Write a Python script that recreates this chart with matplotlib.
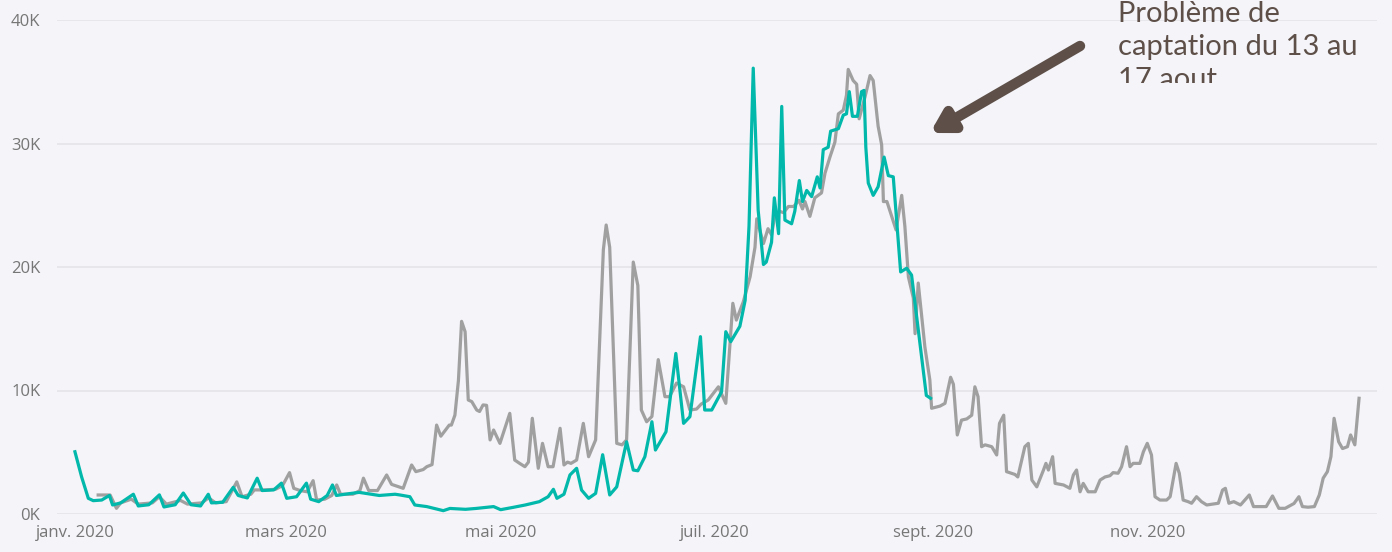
import matplotlib
matplotlib.use("Agg")
import matplotlib.pyplot as plt
from matplotlib.transforms import Bbox, TransformedBbox
import pandas as pd

START = pd.Timestamp("2020-01-01")

# Grey series: (day offset from 1 Jan 2020, value in thousands)
grey_days = [6.6, 10, 11.8, 13, 16, 18, 22, 24, 26, 30, 32, 36, 38, 40, 43, 46, 47.5, 50, 51, 54, 57, 59,
             61, 62.2, 64, 66, 67.7, 68.7, 71, 73, 74.4, 75.5, 79, 81, 82, 83.5, 86, 88.6, 90, 93.3, 95.7,
             96.9, 99, 100, 101.5, 102.8, 104, 106.4, 107, 108, 109, 109.9, 110.9, 111.8, 112.8, 114.2, 115,
             116, 117, 118, 119, 120.8, 123.6, 125, 126.4, 127.9, 128.9, 130, 131.7, 132.9, 134.5, 135.9,
             137.9, 139, 140, 141, 142.6, 144.5, 146, 148, 150.2, 151, 152, 154, 155.5, 156.8, 158.7, 160,
             161, 162.5, 164, 165.8, 167.7, 169, 171, 173, 174.8, 176.7, 178, 180, 182.9, 185, 187, 188,
             190, 191.9, 193.3, 193.8, 195.7, 197, 198, 199, 200.4, 201.4, 202.8, 204.3, 205.8, 206.8,
             207.5, 208.9, 210.3, 212.2, 213.2, 214.6, 216, 217, 218.4, 219.3, 219.8, 221.2, 222.2, 222.9,
             224.6, 226, 226.9, 228.3, 229.3, 229.8, 230.8, 231.7, 233.4, 235, 235.9, 236.9, 238.3, 238.8,
             239.7, 241.6, 243, 243.5, 245.9, 247.3, 248.9, 249.7, 250.8, 252, 253.5, 254.9, 255.8, 256.7,
             257.7, 258.7, 260.6, 262, 262.8, 264, 264.8, 267.2, 268, 270, 271, 272, 273.4, 275.3, 276,
             276.7, 277.9, 278.6, 281, 282.8, 283.8, 284.7, 285.7, 286.6, 288, 290, 291.4, 292.8, 294.2,
             295.1, 296.5, 297.5, 298.9, 299.9, 300.8, 302.7, 303.7, 304.8, 306, 307, 308.4, 310.3, 311.3,
             313, 313.9, 315, 316.4, 317.4, 318.8, 320.2, 321.7, 325, 326.2, 327, 328, 329.4, 331.3, 333.8,
             335, 338.6, 340.4, 342.2, 344, 345.5, 346.5, 347.9, 348.9, 350.5, 352.3, 353.7, 354.8, 356,
             357, 357.9, 359.2, 360.3, 361.7, 362.6, 363.8, 365]
grey_vals = [1.54, 1.54, 0.46, 0.9, 1.2, 0.8, 0.9, 1.4, 0.8, 1.1, 0.8, 0.9, 1.3, 0.9, 1.0, 2.6, 1.4, 1.6, 1.95,
             1.95, 2.0, 2.3, 3.35, 2.08, 1.9, 1.8, 2.7, 1.13, 1.2, 1.5, 2.35, 1.6, 1.6, 1.9, 2.9, 1.9, 1.9,
             3.16, 2.4, 2.08, 3.97, 3.43, 3.6, 3.83, 4.0, 7.2, 6.3, 7.2, 7.2, 8.0, 10.8, 15.6, 14.76, 9.23,
             9.1, 8.42, 8.3, 8.83, 8.8, 6.0, 6.8, 5.72, 8.15, 4.37, 4.1, 3.83, 4.2, 7.75, 3.7, 5.72, 3.83,
             3.83, 6.94, 3.97, 4.2, 4.1, 4.37, 7.34, 4.64, 6.0, 21.4, 23.4, 21.6, 5.72, 5.6, 6.0, 20.4, 18.5,
             8.42, 7.47, 7.9, 12.5, 9.5, 9.5, 10.6, 10.3, 8.42, 8.5, 8.9, 9.23, 10.3, 8.96, 17.06, 15.7,
             17.2, 19.2, 21.6, 23.9, 21.9, 23.1, 22.6, 24.3, 24.5, 24.4, 24.9, 24.9, 25.4, 24.7, 25.3, 24.1,
             25.6, 26.0, 27.6, 28.9, 30.1, 32.4, 32.7, 33.9, 36.0, 35.1, 34.8, 32.0, 33.8, 35.5, 35.1, 31.4,
             29.9, 25.3, 25.3, 24.5, 23.0, 25.8, 23.3, 19.2, 17.5, 14.6, 18.7, 13.5, 10.85, 8.56, 8.74, 8.96,
             11.07, 10.5, 6.4, 7.6, 7.7, 8.0, 10.3, 9.5, 5.45, 5.6, 5.45, 4.78, 7.34, 8.0, 3.43, 3.2, 3.0,
             5.45, 5.72, 2.75, 2.2, 3.56, 4.1, 3.56, 4.64, 2.48, 2.35, 2.08, 3.16, 3.56, 1.8, 2.48, 1.8, 1.8,
             2.75, 3.0, 3.1, 3.35, 3.3, 3.83, 5.45, 3.83, 4.1, 4.1, 5.04, 5.72, 4.78, 1.4, 1.13, 1.13, 1.4,
             4.1, 3.3, 1.13, 1.0, 0.87, 1.4, 1.0, 0.73, 0.87, 1.94, 2.08, 0.87, 1.0, 0.73, 1.54, 0.6, 0.6,
             1.46, 0.46, 0.46, 0.7, 0.85, 1.4, 0.6, 0.55, 0.6, 1.54, 2.9, 3.43, 4.64, 7.75, 5.85, 5.3, 5.45,
             6.4, 5.6, 9.37]

# Teal series
teal_days = [0, 1.9, 3.8, 5.2, 7.6, 9.8, 10.7, 13, 16.6, 18, 21, 24, 25.3, 28.5, 30.8, 33, 35.7, 37.9, 38.8,
             42, 45, 46.4, 49, 51.8, 53.2, 56.5, 58.7, 60.2, 63, 65.8, 67, 69.3, 71.7, 73.2, 74.3, 78, 80.8,
             86.5, 91, 92.4, 95.2, 96.6, 100, 104.7, 106.6, 111, 114, 119, 121, 124.6, 128, 132, 134.5, 136,
             137, 139, 140.7, 142.6, 144, 146, 148, 150, 152, 154, 156.8, 158.7, 160, 162, 164, 165, 168,
             170.8, 173, 174.8, 177.8, 179, 181, 183.8, 185, 186.4, 189, 190.5, 191.6, 192.8, 194.2, 195.7,
             196.5, 198, 198.8, 200, 200.9, 201.8, 203.7, 204.6, 205.9, 206.8, 208, 209.4, 211, 211.8,
             212.7, 214.1, 214.8, 217, 218.4, 219.3, 220.1, 221, 222.4, 223.6, 224.3, 224.8, 225.5, 226.9,
             228.3, 230, 231.2, 232.6, 234.7, 236.4, 237.8, 242, 243.2]
teal_vals = [5.04, 3.0, 1.27, 1.08, 1.13, 1.5, 0.73, 0.9, 1.6, 0.65, 0.75, 1.55, 0.57, 0.75, 1.7, 0.75, 0.65,
             1.6, 0.9, 0.95, 2.16, 1.5, 1.3, 2.9, 1.9, 1.95, 2.5, 1.27, 1.4, 2.5, 1.2, 1.0, 1.5, 2.35, 1.5,
             1.65, 1.75, 1.5, 1.6, 1.54, 1.4, 0.73, 0.6, 0.27, 0.45, 0.38, 0.45, 0.6, 0.35, 0.54, 0.73, 1.0,
             1.4, 2.0, 1.27, 1.6, 3.16, 3.7, 1.94, 1.27, 1.67, 4.8, 1.54, 2.2, 5.85, 3.56, 3.5, 4.64, 7.47,
             5.18, 6.66, 13.0, 7.34, 7.88, 14.36, 8.42, 8.42, 9.9, 14.76, 13.95, 15.2, 17.3, 23.3, 36.1,
             24.6, 20.2, 20.4, 22.0, 25.6, 22.7, 33.0, 23.8, 23.5, 24.5, 27.0, 25.3, 26.2, 25.7, 27.3, 26.4,
             29.5, 29.7, 31.0, 31.2, 32.3, 32.4, 34.2, 32.2, 32.2, 34.2, 34.3, 29.7, 26.8, 25.8, 26.5, 28.9,
             27.4, 27.3, 19.6, 19.9, 19.35, 9.6, 9.37]

y_ticks = [0, 10, 20, 30, 40]
y_labels = ["0K", "10K", "20K", "30K", "40K"]
month_ticks = ["2020-01-01", "2020-03-01", "2020-05-01", "2020-07-01", "2020-09-01", "2020-11-01"]
month_labels = ["janv. 2020", "mars 2020", "mai 2020", "juil. 2020", "sept. 2020", "nov. 2020"]
annotation_lines = ["Problème de", "captation du 13 au", "17 aout"]

BG = "#f4f4f9"
TEAL = "#01b8aa"
GREY = "#a0a0a0"
TXT = "#767676"
ANN = "#5e5049"

def to_dates(days):
    return START + pd.to_timedelta(days, unit="D")

W, H = 1392, 552
fig = plt.figure(figsize=(W / 100, H / 100), dpi=100, facecolor=BG)
ax = fig.add_axes([57 / W, 1 - 514 / H, 1320 / W, 494 / H], facecolor=BG)

ax.plot(to_dates(grey_days), [v * 1000 for v in grey_vals], color=GREY, lw=2.3,
        solid_joinstyle="round", zorder=3, clip_on=False)
ax.plot(to_dates(teal_days), [v * 1000 for v in teal_vals], color=TEAL, lw=2.3,
        solid_joinstyle="round", zorder=4, clip_on=False)

ax.set_ylim(0, 40000)
ax.set_xlim(START - pd.Timedelta(days=5.1), START + pd.Timedelta(days=370.1))
ax.set_yticks([t * 1000 for t in y_ticks])
ax.set_yticklabels(y_labels)
ax.set_xticks(pd.to_datetime(month_ticks))
ax.set_xticklabels(month_labels)
ax.grid(axis="y", color="#e6e6ea", lw=1.3, zorder=0)
ax.grid(axis="x", visible=False)
for s in ax.spines.values():
    s.set_visible(False)
ax.tick_params(axis="both", length=0, colors=TXT, labelsize=12)
ax.tick_params(axis="y", pad=12)
ax.tick_params(axis="x", pad=8)
for lab in ax.get_xticklabels() + ax.get_yticklabels():
    lab.set_fontfamily("Open Sans")

# Annotation text (clipped box like the original)
clip = TransformedBbox(Bbox([[1100 / W, 1 - 83 / H], [1.0, 1.0]]), fig.transFigure)
for i, line in enumerate(annotation_lines):
    t = fig.text(1118 / W, 1 - (22 + 33 * i) / H, line, ha="left", va="baseline",
                 fontsize=21, color=ANN, family="Lato")
    t.set_clip_box(clip)
    t.set_clip_on(True)

ax.annotate("", xy=(930 / W, 1 - 133 / H), xytext=(1080 / W, 1 - 46 / H),
            xycoords="figure fraction", textcoords="figure fraction",
            arrowprops=dict(arrowstyle="-|>,head_length=1.2,head_width=0.7", color=ANN, lw=7.5,
                            shrinkA=0, shrinkB=0))

fig.savefig("out.png", dpi=100, facecolor=BG)
